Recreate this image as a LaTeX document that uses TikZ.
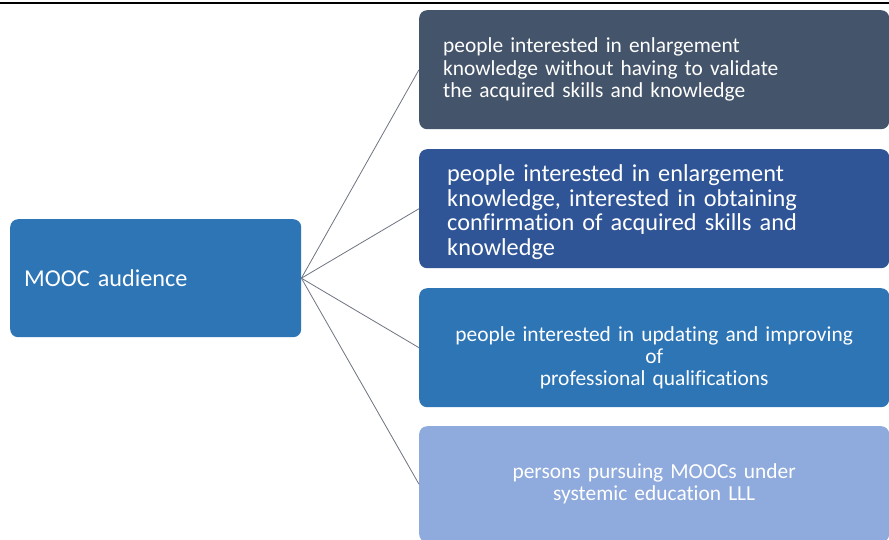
\documentclass[tikz,border=0pt]{standalone}
\usepackage{fontspec}
\setmainfont[RawFeature={-liga}]{Carlito}
\definecolor{slate}{HTML}{44546A}
\definecolor{darkblue}{HTML}{2F5597}
\definecolor{midblue}{HTML}{2E75B6}
\definecolor{lightblue}{HTML}{8FAADC}
\definecolor{linkgray}{HTML}{6E7480}
\tikzset{
  box/.style={rectangle, rounded corners=8pt, anchor=north west, draw=none,
    text=white, minimum width=470pt, minimum height=119pt, inner ysep=0pt},
  leftbox/.style={box, text width=422pt, inner xsep=24pt, align=left,
    font=\fontsize{21.4}{22.5}\selectfont},
  leftboxbig/.style={box, text width=414pt, inner xsep=28pt, align=left,
    font=\fontsize{24.3}{24.7}\selectfont},
  centerbox/.style={box, text width=440pt, inner xsep=15pt, align=center,
    font=\fontsize{21.4}{22}\selectfont},
  link/.style={draw=linkgray, line width=0.8pt}
}
\begin{document}
\begin{tikzpicture}[x=1pt,y=-1pt]
\useasboundingbox (0,0) rectangle (889,539);
\clip (0,0) rectangle (889,539);
\fill[white] (0,0) rectangle (889,539);
\coordinate (tl) at (0,3);
\coordinate (tr) at (889,3);
\draw[black, line width=1.5pt] (tl) -- (tr);
\node[box, fill=midblue, minimum width=291pt, minimum height=118pt,
  text width=263pt, inner xsep=14pt, align=left,
  font=\fontsize{24.2}{26}\selectfont] (root) at (10,219) {MOOC audience};
\node[leftbox, fill=slate] (a) at (419,10) {people interested in enlargement\\knowledge without having to validate\\the acquired skills and knowledge};
\node[leftboxbig, fill=darkblue] (b) at (419,149) {\rule{0pt}{24pt}people interested in enlargement\\knowledge, interested in obtaining\\confirmation of acquired skills and\\knowledge};
\node[centerbox, fill=midblue] (c) at (419,288) {\rule{0pt}{35pt}people interested in updating and improving\\of\\professional qualifications};
\node[centerbox, fill=lightblue, minimum height=116pt] (d) at (419,426) {persons pursuing MOOCs under\\systemic education LLL};
\draw[link] (root.east) -- (a.west);
\draw[link] (root.east) -- (b.west);
\draw[link] (root.east) -- (c.west);
\draw[link] (root.east) -- (d.west);
\end{tikzpicture}
\end{document}
